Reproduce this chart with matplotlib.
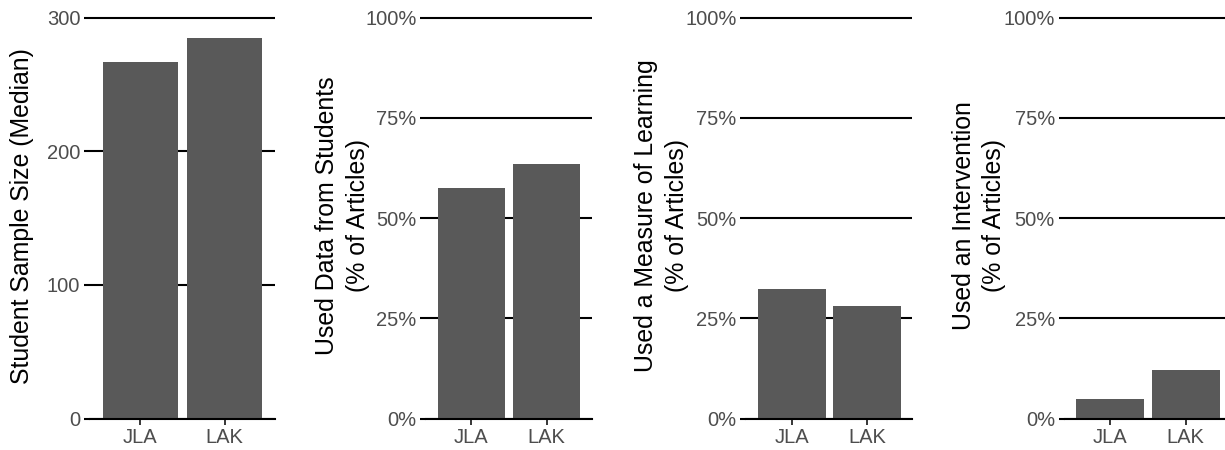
import matplotlib
matplotlib.use("Agg")
import matplotlib.pyplot as plt
from matplotlib.ticker import FixedLocator, FuncFormatter

plt.rcParams['font.family'] = ['Liberation Sans', 'DejaVu Sans']

# ---- data ----
categories = ["JLA", "LAK"]
sample_size = [267, 285]
used_data = [0.574, 0.635]
measure_learning = [0.324, 0.281]
intervention = [0.049, 0.120]

panel_values = [sample_size, used_data, measure_learning, intervention]
panel_labels = ["Student Sample Size (Median)",
                "Used Data from Students\n(% of Articles)",
                "Used a Measure of Learning\n(% of Articles)",
                "Used an Intervention\n(% of Articles)"]
count_ticks = [0, 100, 200, 300]
pct_ticks = [0, 0.25, 0.5, 0.75, 1.0]

W, H = 1225, 450
DPI = 100
fig = plt.figure(figsize=(W / DPI, H / DPI), dpi=DPI)

# panel boxes in pixels: (left, right)
boxes = [(90, 275), (426.3, 591.7), (746.3, 912.3), (1064.6, 1231)]
label_x = [22.5, 342.5, 661.5, 979]
y_top_val_px = 17.5
y_zero_px = 418.5
axes_top_px = 15.5

BAR = "#595959"
TICKC = "#4D4D4D"

for i, (vals, lab, (l, r)) in enumerate(zip(panel_values, panel_labels, boxes)):
    ax = fig.add_axes([l / W, 1 - y_zero_px / H, (r - l) / W, (y_zero_px - axes_top_px) / H])
    ticks = count_ticks if i == 0 else pct_ticks
    ymax = ticks[-1] * (y_zero_px - axes_top_px) / (y_zero_px - y_top_val_px)
    ax.bar(range(len(categories)), vals, width=0.9, color=BAR, zorder=2)
    ax.set_xlim(-0.6, 1.6)
    ax.set_ylim(0, ymax)
    ax.set_xticks(range(len(categories)))
    ax.set_xticklabels(categories)
    ax.yaxis.set_major_locator(FixedLocator(ticks))
    if i > 0:
        ax.yaxis.set_major_formatter(FuncFormatter(lambda v, p: f"{int(round(v * 100))}%"))
    ax.set_axisbelow(True)
    ax.grid(axis='y', color='black', linewidth=1.5)
    for s in ['top', 'right', 'left']:
        ax.spines[s].set_visible(False)
    ax.spines['bottom'].set_color('black')
    ax.spines['bottom'].set_linewidth(1.5)
    ax.tick_params(axis='both', colors='black', length=4, width=1.5, labelsize=14.5,
                   labelcolor=TICKC, pad=3)
    ax.tick_params(axis='x', width=1.1)
    fig.text(label_x[i] / W, 1 - 216 / H, lab, rotation=90, ha='center', va='center',
             multialignment='center', fontsize=17.9, color='black', linespacing=1.35)

fig.savefig("out.png", dpi=DPI)
